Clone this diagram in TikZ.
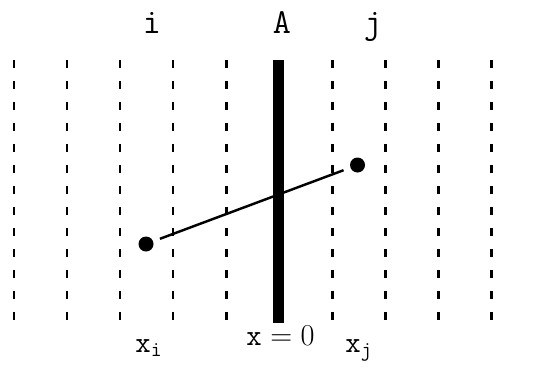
\documentclass[tikz,border=0pt]{standalone}
\begin{document}
\begin{tikzpicture}[
    grid/.style={line width=1.7pt, dash pattern=on 0.16cm off 0.26cm},
    wall/.style={line width=0.22cm},
    ball/.style={circle, fill=black, inner sep=0pt, minimum size=0.3cm},
    lbl/.style={font=\fontsize{20}{22}\selectfont\ttfamily, inner sep=0pt, anchor=base}]
    \useasboundingbox (0,0) rectangle (10.78,7.32);
    \draw [grid] (0.28,6.12) -- (0.28,0.86);
    \draw [grid] (1.34,6.12) -- (1.34,0.86);
    \draw [grid] (2.40,6.12) -- (2.40,0.86);
    \draw [grid] (3.46,6.12) -- (3.46,0.86);
    \draw [grid] (4.52,6.12) -- (4.52,0.86);
    \draw [grid] (6.64,6.12) -- (6.64,0.86);
    \draw [grid] (7.70,6.12) -- (7.70,0.86);
    \draw [grid] (8.76,6.12) -- (8.76,0.86);
    \draw [grid] (9.82,6.12) -- (9.82,0.86);
    \draw [wall] (5.56,6.12) -- (5.56,0.86);
    % particles
    \node [ball] (xi) at (2.92,2.44) {};
    \node [ball] (xj) at (7.15,4.02) {};
    \draw [line width=1.4pt, shorten <=4pt, shorten >=4pt] (xi) -- (xj);
    % lecter
    \node [lbl] (celli) at (3.04,6.66) {i};
    \node [lbl] (cellA) at (5.64,6.66) {A};
    \node [lbl] (cellj) at (7.46,6.66) {j};
    \node [lbl, font=\fontsize{17}{19}\selectfont\ttfamily] (origin) at (5.61,0.42) {x${}=0$};
    \node [lbl, font=\fontsize{17}{19}\selectfont\ttfamily] (posi) at (2.98,0.28) {x$_{\mathtt{i}}$};
    \node [lbl, font=\fontsize{17}{19}\selectfont\ttfamily] (posj) at (7.18,0.28) {x$_{\mathtt{j}}$};
\end{tikzpicture}
\end{document}
